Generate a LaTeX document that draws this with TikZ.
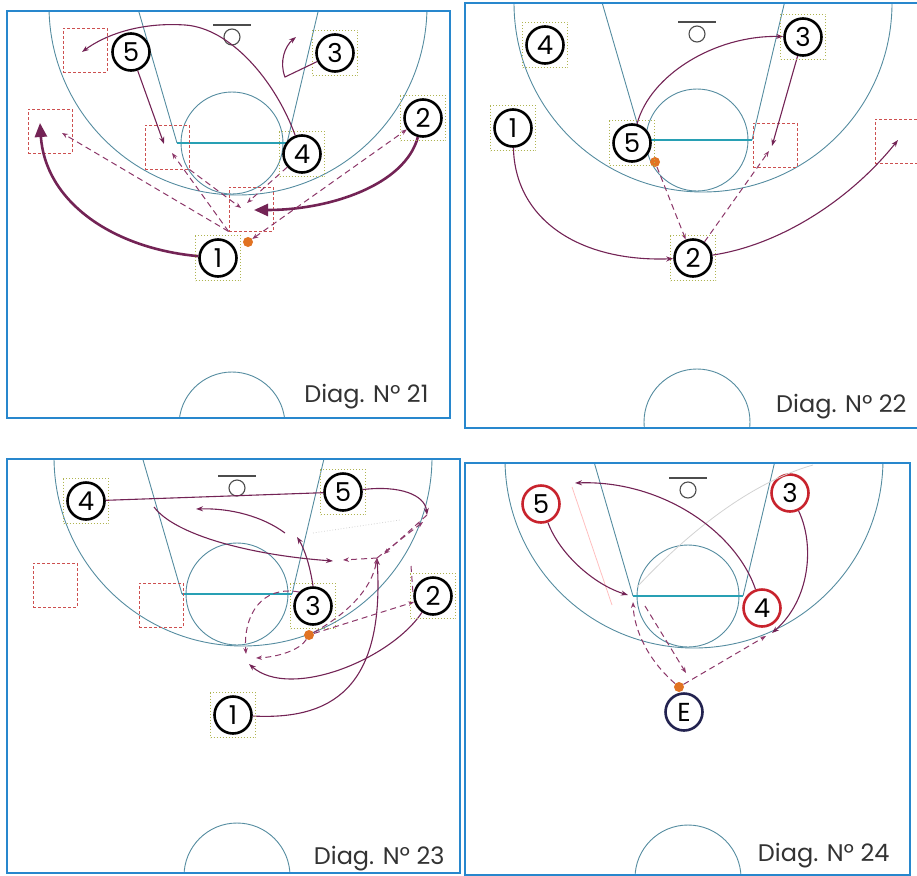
\documentclass[tikz,border=0pt]{standalone}
\usepackage{fontspec}
\setmainfont{Poppins}
\usetikzlibrary{arrows.meta,positioning}
\definecolor{frameblue}{RGB}{40,135,205}
\definecolor{courtcol}{RGB}{85,140,160}
\definecolor{ftcol}{RGB}{40,160,180}
\definecolor{movecol}{RGB}{115,35,85}
\definecolor{passcol}{RGB}{140,55,105}
\definecolor{spotred}{RGB}{205,80,80}
\definecolor{keepcol}{RGB}{175,180,80}
\definecolor{ballcol}{RGB}{225,115,35}
\definecolor{defred}{RGB}{200,35,45}
\definecolor{navy}{RGB}{35,35,80}

\begin{document}
\begin{tikzpicture}[x=1pt, y=-1pt,
    player/.style={circle, draw=black, fill=white, line width=2.6pt, minimum size=37pt,
                   inner sep=0pt, font=\fontsize{26}{26}\selectfont},
    defender/.style={player, draw=defred},
    keep/.style={draw=keepcol, dotted, line width=1pt, minimum size=45pt, inner sep=0pt},
    spot/.style={draw=spotred, densely dashed, line width=0.9pt, minimum size=44pt, inner sep=0pt},
    ball/.style={circle, fill=ballcol, minimum size=10pt, inner sep=0pt},
    court/.style={courtcol, line width=0.9pt},
    move/.style={-{Stealth[length=7pt,width=5pt]}, movecol, line width=1.1pt},
    bigmove/.style={-{Triangle[length=14pt,width=12pt]}, movecol, line width=2.6pt},
    pass/.style={-{Stealth[length=6pt,width=4.5pt]}, passcol, line width=1pt, dash pattern=on 6pt off 4pt},
    pass2/.style={pass, {Stealth[length=6pt,width=4.5pt]}-{Stealth[length=6pt,width=4.5pt]}},
    ghost/.style={gray!35, line width=0.8pt},
    lbl/.style={anchor=base east, font=\fontsize{24}{24}\selectfont, text=black!80}]
\useasboundingbox (0,0) rectangle (917,875);

% courts
\foreach \cx/\cy/\xa/\ya/\xb/\yb in {232/143/7/11/450/418, 697/140/465/3/925/428,
                                      237/594/7/459/460/873, 688/596/465/463/910/875}{
  \begin{scope}
    \clip (\xa,\ya) rectangle (\xb,\yb);
    \begin{scope}[shift={(\cx,\cy)}]
      \draw[court] (6,-137) circle[radius=189pt];
      \draw[court] (0,0) circle[radius=51pt];
      \draw[court] (-55,0) -- (-98,-148);
      \draw[court] (55,0) -- (90,-148);
      \draw[ftcol, line width=1.1pt] (-55,0) -- (55,0);
      \draw[black!70, line width=1.1pt] (0,-106) circle[radius=8pt];
      \draw[black!70, line width=1.2pt] (-19,-118) -- (19,-118);
      \draw[court] (0,282) circle[radius=53pt];
    \end{scope}
  \end{scope}
  \draw[frameblue, line width=2.2pt] (\xa,\ya) rectangle (\xb,\yb);
}

\node[lbl] (d21lbl) at (432,402) {Diag. Nº 21};
\node[lbl] (d22lbl) at (910,412) {Diag. Nº 22};
\node[lbl] (d23lbl) at (448,864) {Diag. Nº 23};
\node[lbl] (d24lbl) at (893,861) {Diag. Nº 24};

% Diag 21
\node[spot] (d21r1) at (85,50) {};
\node[spot] (d21r2) at (50,131) {};
\node[spot] (d21r3) at (167,147) {};
\node[spot] (d21r4) at (251,209) {};
\node[player] (d21p5) at (131,52) {5};
\node[player] (d21p3) at (335,53) {3};
\node[player] (d21p2) at (423,118) {2};
\node[player] (d21p4) at (302,154) {4};
\node[player] (d21p1) at (218,258) {1};
\node[ball] (d21b) at (248,242) {};
\coordinate (d21t1) at (40,123);
\coordinate (d21t2) at (254,210);
\coordinate (d21t3) at (164,144);
\coordinate (d21t4) at (82,52);
\coordinate (d21t5) at (296,37);
\coordinate (d21t6) at (62,133);
\coordinate (d21t7) at (172,153);
\coordinate (d21t8) at (241,208);
\coordinate (d21t9) at (247,203);
\draw[bigmove] (d21p1) .. controls (110,248) and (45,200) .. (d21t1);
\draw[bigmove] (d21p2) .. controls (405,185) and (330,210) .. (d21t2);
\draw[move] (d21p5) -- (d21t3);
\draw[move] (d21p4) .. controls (275,80) and (230,28) .. (185,25) .. controls (140,22) and (105,35) .. (d21t4);
\draw[move] (d21p3) -- (285,77) .. controls (279,62) and (285,46) .. (d21t5);
\draw[pass] (d21r4.south west) -- (d21t6);
\draw[pass] (d21r4.south west) -- (d21t7);
\draw[pass] (d21r3.south east) -- (d21t8);
\draw[pass] (d21p4) -- (d21t9);
\draw[pass2] (d21b) -- (d21p2);

% Diag 22
\node[spot] (d22r1) at (775,145) {};
\node[spot] (d22r2) at (897,141) {};
\node[player] (d22p4) at (545,45) {4};
\node[player] (d22p3) at (803,37) {3};
\node[player] (d22p1) at (513,128) {1};
\node[player] (d22p5) at (632,143) {5};
\node[player] (d22p2) at (693,258) {2};
\node[ball] (d22b) at (655,162) {};
\coordinate (d22t1) at (772,146);
\coordinate (d22t2) at (898,140);
\coordinate (d22t3) at (769,151);
\draw[move] (d22p5) .. controls (650,75) and (715,35) .. (d22p3);
\draw[move] (d22p3) -- (d22t1);
\draw[move] (d22p1) .. controls (515,220) and (580,262) .. (d22p2);
\draw[move] (d22p2) .. controls (780,245) and (850,200) .. (d22t2);
\draw[pass] (d22b) -- (d22p2);
\draw[pass] (d22p2) -- (d22t3);

% Diag 23
\node[spot] (d23r1) at (55,585) {};
\node[spot] (d23r2) at (161,605) {};
\node[player] (d23p4) at (86,501) {4};
\node[player] (d23p5) at (343,492) {5};
\node[player] (d23p3) at (313,606) {3};
\node[player] (d23p2) at (433,596) {2};
\node[player] (d23p1) at (233,715) {1};
\node[ball] (d23b) at (309,635) {};
\coordinate (d23t1) at (427,515);
\coordinate (d23k) at (154,507);
\coordinate (d23t2) at (333,561);
\coordinate (d23t3) at (297,537);
\coordinate (d23t4) at (285,533);
\coordinate (d23t5) at (196,509);
\coordinate (d23t6) at (246,654);
\coordinate (d23t7) at (249,664);
\coordinate (d23t10) at (256,658);
\coordinate (d23j) at (377,558);
\coordinate (d23t8) at (343,560);
\coordinate (d23t9) at (423,522);
\coordinate (d23t11) at (384,554);
\coordinate (d23t12) at (411,566);
\coordinate (d23g1) at (313,533);
\coordinate (d23g2) at (400,520);
\draw[movecol, line width=1.1pt] (d23p4) -- (d23p5);
\draw[move] (d23p5) .. controls (400,485) and (425,495) .. (d23t1);
\draw[move] (d23k) .. controls (175,535) and (250,555) .. (d23t2);
\draw[move] (d23p3.north) .. controls (310,565) and (304,548) .. (d23t3);
\draw[move] (d23t4) .. controls (262,516) and (230,508) .. (d23t5);
\draw[move] (d23p1) .. controls (330,720) and (385,690) .. (d23j);
\draw[move] (d23p2) .. controls (390,660) and (290,700) .. (d23t7);
\draw[pass] (d23p3.north west) .. controls (262,585) and (243,615) .. (d23t6);
\draw[pass] (d23b) .. controls (300,650) and (278,657) .. (d23t10);
\draw[pass] (d23b) -- (d23p2);
\draw[pass] (d23b) .. controls (345,615) and (372,590) .. (d23j);
\draw[pass] (d23j) -- (d23t8);
\draw[pass] (d23j) -- (d23t9);
\draw[pass] (d23t1) -- (d23t11);
\draw[pass, -] (d23t12) -- (d23p2.west);
\draw[ghost, dotted] (d23g1) -- (d23g2);
\foreach \n in {d23p4,d23p5,d23p3,d23p2,d23p1} \node[keep] at (\n) {};

% Diag 24
\node[defender] (d24p5) at (541,504) {5};
\node[defender] (d24p3) at (790,493) {3};
\node[defender] (d24p4) at (762,608) {4};
\node[player, draw=navy] (d24pe) at (684,712) {E};
\node[ball] (d24b) at (679,687) {};
\coordinate (d24t1) at (628,595);
\coordinate (d24t2) at (575,483);
\coordinate (d24t3) at (772,633);
\coordinate (d24t4) at (633,602);
\coordinate (d24t5) at (645,606);
\coordinate (d24t6) at (686,673);
\coordinate (d24t7) at (766,636);
\coordinate (d24g1) at (572,487);
\coordinate (d24g2) at (612,605);
\coordinate (d24g3) at (637,587);
\coordinate (d24g4) at (813,465);
\draw[ghost, red!25] (d24g1) -- (d24g2);
\draw[ghost] (d24g3) .. controls (700,520) and (760,480) .. (d24g4);
\draw[move] (d24p5) .. controls (560,555) and (595,585) .. (d24t1);
\draw[move] (d24p4) .. controls (735,530) and (660,480) .. (d24t2);
\draw[move] (d24p3) .. controls (815,545) and (810,600) .. (d24t3);
\draw[pass] (d24b) .. controls (648,660) and (634,630) .. (d24t4);
\draw[pass] (d24t5) -- (d24t6);
\draw[pass] (d24b) -- (d24t7);

\foreach \n in {d21p3,d21p2,d21p4,d21p1,d22p4,d22p3,d22p1,d22p5,d22p2} \node[keep] at (\n) {};
\end{tikzpicture}
\end{document}
